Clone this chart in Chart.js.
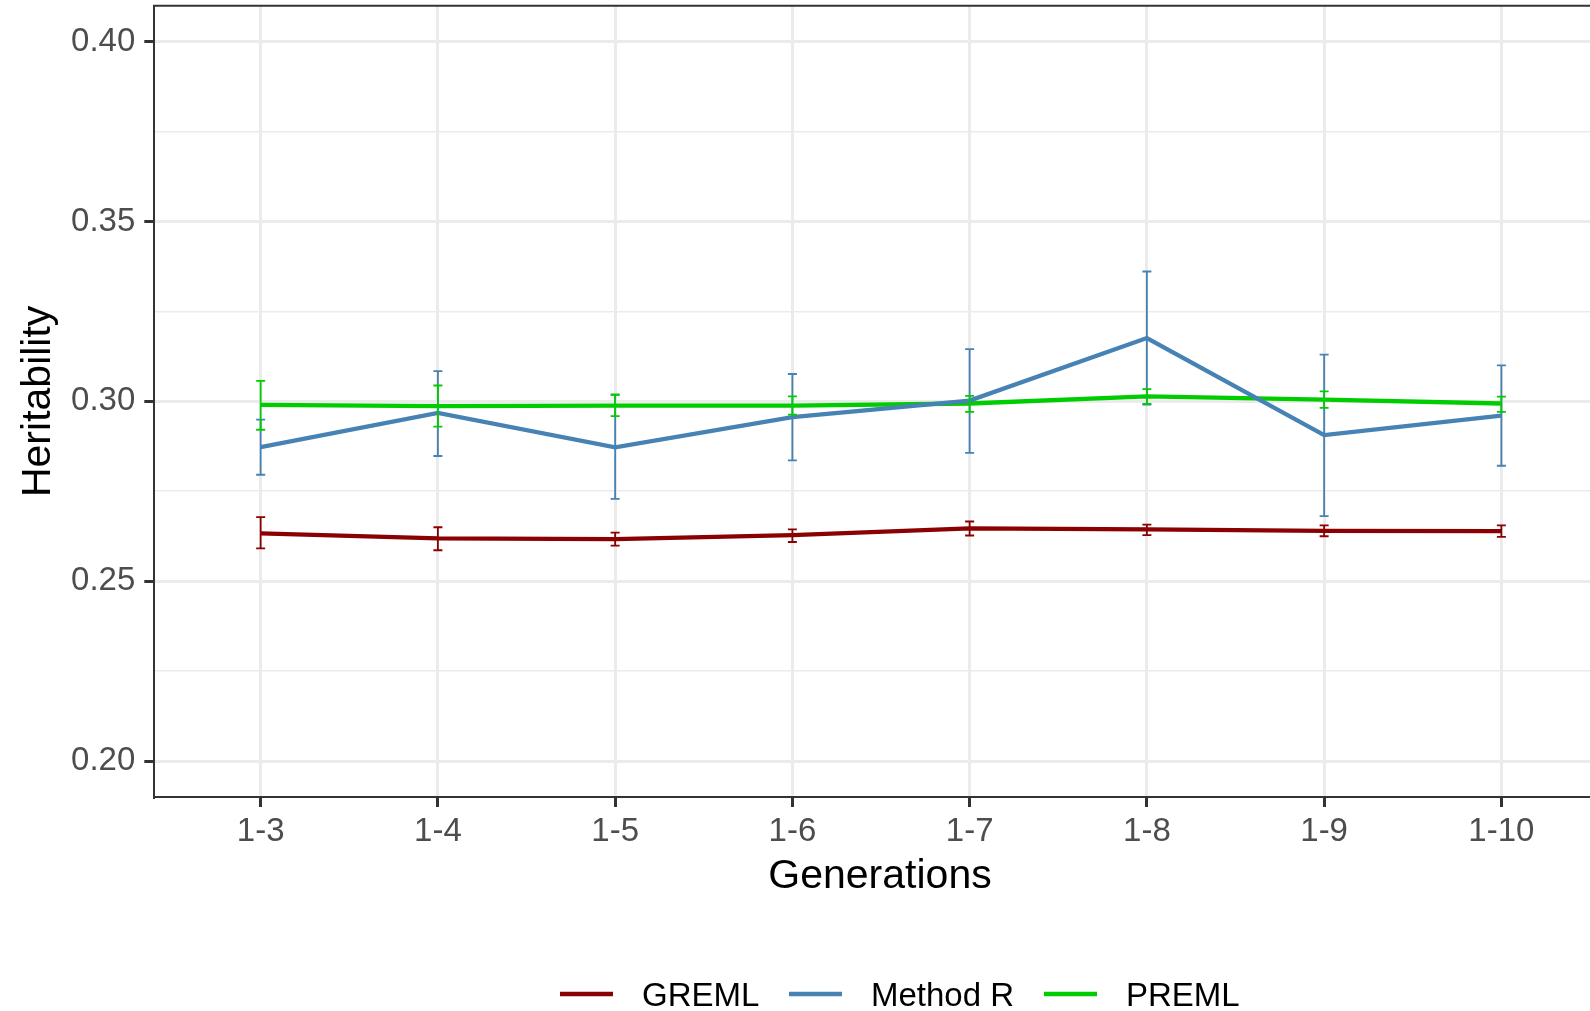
<!DOCTYPE html>
<html>
<head>
<meta charset="utf-8">
<script src="https://cdn.jsdelivr.net/npm/chart.js@4.4.0/dist/chart.umd.min.js"></script>
<style>
  html, body { margin: 0; padding: 0; background: #fff; }
  #wrap { width: 1590px; height: 1011px; position: relative; }
</style>
</head>
<body>
<div id="wrap"><canvas id="chart" width="1590" height="1011"></canvas></div>
<script>
// data
const generations = ["1-3", "1-4", "1-5", "1-6", "1-7", "1-8", "1-9", "1-10"];

const gremlH  = [0.2633, 0.2619, 0.2617, 0.2628, 0.2647, 0.2644, 0.2640, 0.2639];
const gremlLo = [0.2591, 0.2586, 0.2599, 0.2609, 0.2627, 0.2628, 0.2625, 0.2623];
const gremlHi = [0.2678, 0.2650, 0.2635, 0.2644, 0.2666, 0.2657, 0.2655, 0.2655];

const methodRH  = [0.2873, 0.2968, 0.2872, 0.2956, 0.3002, 0.3176, 0.2906, 0.2960];
const methodRLo = [0.2796, 0.2848, 0.2729, 0.2836, 0.2857, 0.2991, 0.2681, 0.2821];
const methodRHi = [0.2949, 0.3084, 0.3018, 0.3076, 0.3145, 0.3361, 0.3130, 0.3100];

const premlH  = [0.2990, 0.2987, 0.2988, 0.2988, 0.2994, 0.3014, 0.3005, 0.2994];
const premlLo = [0.2921, 0.2930, 0.2959, 0.2963, 0.2971, 0.2993, 0.2982, 0.2971];
const premlHi = [0.3057, 0.3044, 0.3019, 0.3014, 0.3015, 0.3034, 0.3028, 0.3013];

const yMajorTicks = [0.20, 0.25, 0.30, 0.35, 0.40];
const yMinorTicks = [0.225, 0.275, 0.325, 0.375];
const yTickLabels = ["0.20", "0.25", "0.30", "0.35", "0.40"];

const FONT = "'Liberation Sans', Arial, Helvetica, sans-serif";

const series = [
    { label: "GREML",    color: "#8B0000", h: gremlH,   lo: gremlLo,   hi: gremlHi },
    { label: "Method R", color: "#4682B4", h: methodRH, lo: methodRLo, hi: methodRHi },
    { label: "PREML",    color: "#00CD00", h: premlH,   lo: premlLo,   hi: premlHi }
];

function isMajor(v) {
    return yMajorTicks.some(t => Math.abs(t - v) < 1e-9);
}

// error bars, panel top border, axis titles and legend
const extrasPlugin = {
    id: "extras",
    afterDatasetsDraw(chart) {
        const ctx = chart.ctx;
        const xs = chart.scales.x, ys = chart.scales.y;
        const area = chart.chartArea;
        ctx.save();
        ctx.beginPath();
        ctx.rect(area.left, area.top, area.right - area.left, area.bottom - area.top);
        ctx.clip();
        series.forEach(s => {
            ctx.strokeStyle = s.color;
            ctx.lineWidth = 1.8;
            s.h.forEach((v, i) => {
                const x = xs.getPixelForValue(i);
                const y1 = ys.getPixelForValue(s.lo[i]);
                const y2 = ys.getPixelForValue(s.hi[i]);
                ctx.beginPath();
                ctx.moveTo(x, y1); ctx.lineTo(x, y2);
                ctx.moveTo(x - 4.5, y1); ctx.lineTo(x + 4.5, y1);
                ctx.moveTo(x - 4.5, y2); ctx.lineTo(x + 4.5, y2);
                ctx.stroke();
            });
        });
        ctx.restore();
    },
    afterDraw(chart) {
        const ctx = chart.ctx;
        const area = chart.chartArea;
        ctx.save();
        // top border of the panel
        ctx.strokeStyle = "#333333";
        ctx.lineWidth = 2;
        ctx.beginPath();
        ctx.moveTo(area.left - 1, area.top);
        ctx.lineTo(chart.width, area.top);
        ctx.stroke();

        // axis titles
        ctx.fillStyle = "#000000";
        ctx.font = "41px " + FONT;
        ctx.textAlign = "center";
        ctx.textBaseline = "alphabetic";
        ctx.fillText("Generations", 880, 888);
        ctx.save();
        ctx.translate(49.5, (area.top + area.bottom) / 2);
        ctx.rotate(-Math.PI / 2);
        ctx.fillText("Heritability", 0, 0);
        ctx.restore();

        // legend
        const keyX = [560, 789, 1044];
        ctx.font = "33px " + FONT;
        ctx.textAlign = "left";
        series.forEach((s, i) => {
            ctx.strokeStyle = s.color;
            ctx.lineWidth = 4.5;
            ctx.beginPath();
            ctx.moveTo(keyX[i], 994);
            ctx.lineTo(keyX[i] + 53, 994);
            ctx.stroke();
            ctx.fillStyle = "#000000";
            ctx.fillText(s.label, keyX[i] + 82, 1006);
        });
        ctx.restore();
    }
};

const ctx = document.getElementById("chart").getContext("2d");
new Chart(ctx, {
    type: "line",
    data: {
        datasets: series.map(s => ({
            label: s.label,
            data: s.h.map((v, i) => ({ x: i, y: v })),
            borderColor: s.color,
            backgroundColor: s.color,
            borderWidth: 4.3,
            pointRadius: 0,
            tension: 0,
            fill: false
        }))
    },
    options: {
        responsive: false,
        animation: false,
        events: [],
        layout: { padding: { top: 5.7, right: 0, bottom: 0, left: 0 } },
        plugins: {
            legend: { display: false },
            tooltip: { enabled: false }
        },
        scales: {
            x: {
                type: "linear",
                min: -0.6,
                max: 7.5,
                afterBuildTicks: scale => {
                    scale.ticks = generations.map((g, i) => ({ value: i }));
                },
                afterFit: scale => {
                    scale.height = 214;
                    scale.paddingLeft = 0;
                    scale.paddingRight = 0;
                },
                ticks: {
                    autoSkip: false,
                    maxRotation: 0,
                    padding: 5,
                    color: "#4D4D4D",
                    font: { family: FONT, size: 33 },
                    callback: v => generations[v]
                },
                grid: {
                    color: "#EBEBEB",
                    lineWidth: 3,
                    tickLength: 10,
                    tickColor: "#333333",
                    tickWidth: 3
                },
                border: { display: true, color: "#333333", width: 2 }
            },
            y: {
                type: "linear",
                min: 0.19,
                max: 0.41,
                afterBuildTicks: scale => {
                    scale.ticks = yMajorTicks.concat(yMinorTicks)
                        .sort((a, b) => a - b)
                        .map(v => ({ value: v }));
                },
                afterFit: scale => {
                    scale.width = 154.3;
                    scale.paddingTop = 0;
                    scale.paddingBottom = 0;
                },
                ticks: {
                    autoSkip: false,
                    padding: 9,
                    color: "#4D4D4D",
                    font: { family: FONT, size: 33 },
                    callback: v => {
                        const k = yMajorTicks.findIndex(t => Math.abs(t - v) < 1e-9);
                        return k >= 0 ? yTickLabels[k] : "";
                    }
                },
                grid: {
                    color: "#EBEBEB",
                    lineWidth: c => isMajor(c.tick.value) ? 3 : 1.6,
                    tickLength: 10,
                    tickColor: c => isMajor(c.tick.value) ? "#333333" : "rgba(0,0,0,0)",
                    tickWidth: 3
                },
                border: { display: true, color: "#333333", width: 2 }
            }
        }
    },
    plugins: [extrasPlugin]
});
</script>
</body>
</html>
